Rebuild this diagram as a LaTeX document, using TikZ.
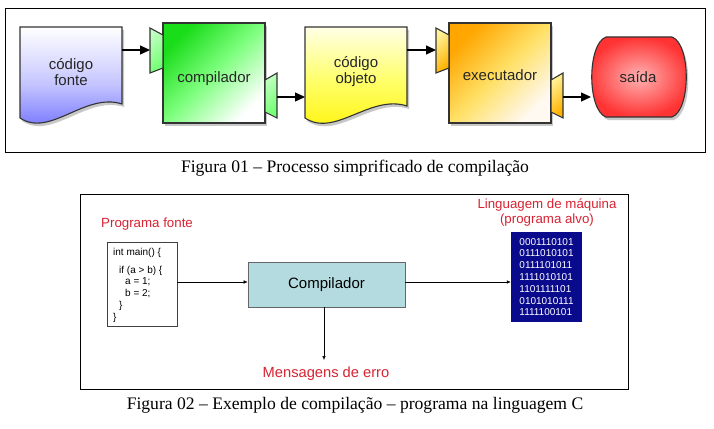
\documentclass[tikz,border=0pt]{standalone}
\usepackage{fontspec}
\setmainfont{Liberation Serif}
\newfontfamily\arial{Liberation Sans}
\usetikzlibrary{arrows.meta,shadows}
\definecolor{lblred}{RGB}{215,35,50}
\definecolor{navyb}{RGB}{10,10,140}
\definecolor{tealbox}{RGB}{180,220,224}
\begin{document}
\begin{tikzpicture}[x=1pt,y=-1pt,
  outl/.style={draw=black!80,line width=1.1pt},
  shad/.style={drop shadow={shadow xshift=2pt,shadow yshift=-3pt,opacity=0.3,fill=black!70}},
  bigarrow/.style={line width=1.3pt,-{Triangle[length=10pt,width=9pt]}},
  thinarrow/.style={line width=0.5pt,-{Latex[length=4pt,width=3.5pt]}},
  lbl/.style={font=\arial\fontsize{15}{16}\selectfont,text=black!85,align=center,inner sep=0pt},
  redlbl/.style={font=\arial\fontsize{13.3}{15}\selectfont,text=lblred,align=center,inner sep=0pt},
  code/.style={font=\arial\fontsize{10}{12}\selectfont,anchor=west,inner sep=0pt},
  caption/.style={font=\fontsize{17.6}{19}\selectfont,inner sep=0pt}]
\useasboundingbox[fill=white] (0,0) rectangle (714,428);

% ---------- Figure 1 ----------
\draw[line width=0.8pt] (5,8) rectangle (705,152);

% codigo fonte
\path[outl,shad,top color=white,bottom color=blue!60!white,middle color=blue!22]
  (20,27) -- (122,27) -- (122,104) .. controls (85,92) and (50,138) .. (20,118) -- cycle;
\node[lbl] (fonte) at (71,72) {código\\fonte};

% compilador
\path[outl,shad,top color=green!85!black!90,bottom color=white,middle color=green!50,shading angle=45]
  (163,23) rectangle (265,123);
\node[lbl] (comp) at (214,79) {compilador};
\path[outl,top color=green!25,bottom color=green!55,shading angle=45]
  (150,28) -- (163,35) -- (163,68) -- (150,73) -- cycle;
\path[outl,top color=green!25,bottom color=green!55,shading angle=45]
  (265,80) -- (277,73) -- (277,118) -- (265,112) -- cycle;
\coordinate (cin) at (150,50);
\coordinate (cout) at (277,97);

% codigo objeto
\path[outl,shad,top color=yellow!10,bottom color=yellow!90!orange,middle color=yellow!60]
  (305,27) -- (407,27) -- (407,106) .. controls (370,94) and (335,138) .. (305,118) -- cycle;
\node[lbl] (objeto) at (356,72) {código\\objeto};
\coordinate (fout) at (122,50);
\coordinate (oin) at (305,97);
\coordinate (oout) at (407,50);

% executador
\path[outl,shad,top color=orange!70!yellow,bottom color=orange!5,middle color=orange!40!yellow!60,shading angle=45]
  (449,23) rectangle (551,123);
\node[lbl] (exec) at (500,75) {executador};
\path[outl,top color=orange!25!yellow!40,bottom color=orange!60!yellow,shading angle=45]
  (436,28) -- (449,35) -- (449,68) -- (436,73) -- cycle;
\path[outl,top color=orange!25!yellow!40,bottom color=orange!60!yellow,shading angle=45]
  (551,80) -- (563,73) -- (563,118) -- (551,112) -- cycle;
\coordinate (ein) at (436,50);
\coordinate (eout) at (563,97);

% saida
\path[outl,shad,inner color=red!30,outer color=red!80]
  (606,37) -- (672,37) .. controls (691,44) and (691,110) .. (672,117)
  -- (606,117) .. controls (587,110) and (587,44) .. (606,37) -- cycle;
\node[lbl] (saida) at (638,77) {saída};
\coordinate (sin) at (591,97);

\draw[bigarrow] (fout) -- (cin);
\draw[bigarrow] (cout) -- (oin);
\draw[bigarrow] (oout) -- (ein);
\draw[bigarrow] (eout) -- (sin);

\node[caption] (cap1) at (355,168) {Figura 01 – Processo simprificado de compilação};

% ---------- Figure 2 ----------
\draw[line width=1pt] (80,194) rectangle (628,389);

\node[redlbl,anchor=west] (pf) at (101,224) {Programa fonte};
\node[draw=black!75,line width=0.7pt,minimum width=70pt,minimum height=84pt,inner sep=0pt] (src) at (142,284) {};
\node[code] (c1) at (113,253) {int main() \{};
\node[code] (c2) at (119,271) {if (a > b) \{};
\node[code] (c3) at (125,282) {a = 1;};
\node[code] (c4) at (125,294) {b = 2;};
\node[code] (c5) at (119,306) {\}};
\node[code] (c6) at (113,318) {\}};

\node[draw=black!60,line width=0.6pt,fill=tealbox,minimum width=157pt,minimum height=45pt,inner sep=0pt,
  font=\arial\fontsize{15}{16}\selectfont] (compb) at (326.5,284.5) {Compilador};

\node[fill=navyb,minimum width=71pt,minimum height=90pt,inner sep=0pt,text=white,align=left,
  font=\arial\fontsize{10}{11.8}\selectfont] (bin) at (546.5,277)
  {0001110101\\0111010101\\0111101011\\1111010101\\1101111101\\0101010111\\1111100101};
\node[redlbl] (lm) at (547,212.5) {Linguagem de máquina\\(programa alvo)};

\coordinate (srcout) at (src.east |- 0,282);
\coordinate (compin) at (compb.west |- 0,282);
\coordinate (compout) at (compb.east |- 0,282);
\coordinate (binin) at (bin.west |- 0,282);
\coordinate (errend) at (324,360);
\draw[thinarrow] (srcout) -- (compin);
\draw[thinarrow] (compout) -- (binin);
\draw[thinarrow] (compb.south -| errend) -- (errend);
\node[redlbl,font=\arial\fontsize{14.7}{16}\selectfont] (err) at (326,374) {Mensagens de erro};

\node[caption] (cap2) at (355,405) {Figura 02 – Exemplo de compilação – programa na linguagem C};
\end{tikzpicture}
\end{document}
